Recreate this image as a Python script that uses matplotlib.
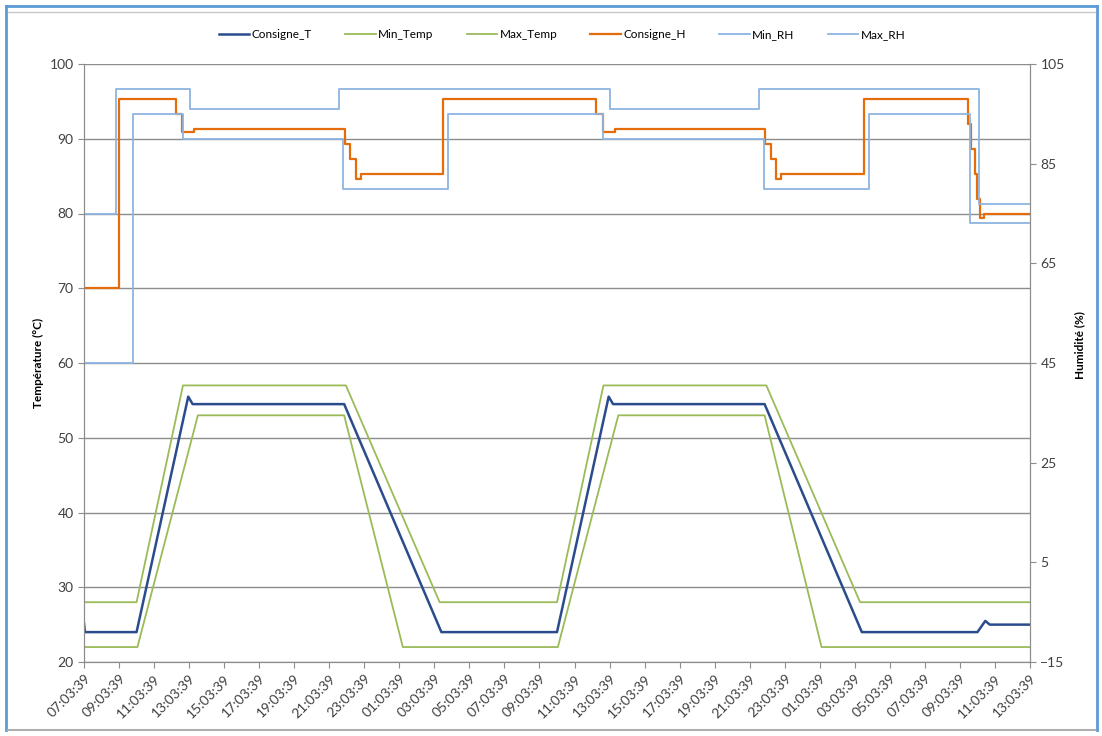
import numpy as np
import matplotlib.pyplot as plt
from matplotlib.lines import Line2D

# x axis: hours elapsed since 07:03:39, one label every 2 h
tick_labels = ["07:03:39", "09:03:39", "11:03:39", "13:03:39", "15:03:39", "17:03:39",
               "19:03:39", "21:03:39", "23:03:39", "01:03:39", "03:03:39", "05:03:39",
               "07:03:39", "09:03:39", "11:03:39", "13:03:39", "15:03:39", "17:03:39",
               "19:03:39", "21:03:39", "23:03:39", "01:03:39", "03:03:39", "05:03:39",
               "07:03:39", "09:03:39", "11:03:39", "13:03:39"]
tick_hours = [2 * i for i in range(len(tick_labels))]

# temperature (left axis, degC)
cons_t_h = [0, 0.05, 3.0, 5.95, 6.2, 14.85, 20.4, 27.0, 29.95, 30.2, 38.85, 44.4, 51.0, 51.45, 51.7, 54]
cons_t = [25.2, 24, 24, 55.5, 54.5, 54.5, 24, 24, 55.5, 54.5, 54.5, 24, 24, 25.5, 25, 25]

min_t_h = [0, 3.05, 6.5, 14.85, 18.2, 27.05, 30.5, 38.85, 42.1, 54]
min_t = [22, 22, 53, 53, 22, 22, 53, 53, 22, 22]

max_t_h = [0, 3.0, 5.65, 14.95, 20.3, 27.0, 29.65, 38.95, 44.3, 54]
max_t = [28, 28, 57, 57, 28, 28, 57, 57, 28, 28]

# humidity (right axis, %), step series
cons_h_h = [0, 2.0, 5.25, 5.6, 6.3, 14.9, 15.2, 15.5, 15.8, 20.5, 29.25, 29.6, 30.3,
            38.9, 39.2, 39.5, 39.8, 44.5, 50.45, 50.65, 50.85, 51.0, 51.15, 51.35, 54]
cons_h = [60, 98, 95, 91.3, 92, 89, 86, 82, 83, 98, 95, 91.3, 92,
          89, 86, 82, 83, 98, 93, 88, 83, 78, 74, 75, 75]

min_rh_h = [0, 2.8, 5.65, 14.8, 20.8, 29.65, 38.8, 44.8, 50.6, 54]
min_rh = [45, 95, 90, 80, 95, 90, 80, 95, 73, 73]

max_rh_h = [0, 1.85, 6.05, 14.55, 30.05, 38.55, 51.1, 54]
max_rh = [75, 100, 96, 100, 96, 100, 77, 77]

c_blue = "#2B4C8C"
c_green = "#9BBB59"
c_orange = "#E46C0A"
c_light = "#8DB4E2"
c_grid = "#8C8C8C"

plt.rcParams['font.family'] = ['Lato', 'DejaVu Sans']

fig = plt.figure(figsize=(11.02, 7.36), dpi=100)
ax = fig.add_axes([84 / 1102, 1 - 662 / 736, 946 / 1102, 598 / 736])
ax2 = ax.twinx()

ax.plot(cons_t_h, cons_t, color=c_blue, lw=1.8)
ax.plot(min_t_h, min_t, color=c_green, lw=1.3)
ax.plot(max_t_h, max_t, color=c_green, lw=1.3)

ax2.plot(cons_h_h, cons_h, color=c_orange, lw=1.6, drawstyle="steps-post")
ax2.plot(min_rh_h, min_rh, color=c_light, lw=1.3, drawstyle="steps-post")
ax2.plot(max_rh_h, max_rh, color=c_light, lw=1.3, drawstyle="steps-post")

ax.set_xlim(0, 54)
ax.set_ylim(20, 100)
ax.set_yticks(np.arange(20, 101, 10))
ax2.set_ylim(-15, 105)
ax2.set_yticks([-15, 5, 25, 45, 65, 85, 105])

ax.set_xticks(tick_hours)
ax.set_xticklabels(tick_labels, rotation=45, ha="right", rotation_mode="anchor")

ax.grid(axis="y", color=c_grid, lw=1)
ax.set_axisbelow(True)

for a in (ax, ax2):
    for s in a.spines.values():
        s.set_color(c_grid)
    a.tick_params(colors=c_grid, labelcolor="#404040", labelsize=10, length=4)
ax.spines["top"].set_visible(False)
ax2.spines["top"].set_visible(False)

fig.text(38 / 1102, 1 - 363 / 736, "Température (°C)", rotation=90, ha="center", va="center",
         fontsize=8.5, fontweight="bold")
fig.text(1080 / 1102, 1 - 345 / 736, "Humidité (%)", rotation=90, ha="center", va="center",
         fontsize=8.5, fontweight="bold")

handles = [Line2D([], [], color=c_blue, lw=1.8), Line2D([], [], color=c_green, lw=1.3),
           Line2D([], [], color=c_green, lw=1.3), Line2D([], [], color=c_orange, lw=1.6),
           Line2D([], [], color=c_light, lw=1.3), Line2D([], [], color=c_light, lw=1.3)]
names = ["Consigne_T", "Min_Temp", "Max_Temp", "Consigne_H", "Min_RH", "Max_RH"]
fig.legend(handles, names, loc="center", bbox_to_anchor=(562 / 1102, 1 - 35 / 736), ncol=6,
           frameon=False, fontsize=8.5, handlelength=2.6, handletextpad=0.2, columnspacing=2.8)

# outer frame
fig.add_artist(Line2D([6 / 1102, 6 / 1102], [1 - 6 / 736, 1 - 730 / 736], color="#5B9BD5", lw=2))
fig.add_artist(Line2D([6 / 1102, 1097 / 1102], [1 - 6 / 736, 1 - 6 / 736], color="#5B9BD5", lw=2))
fig.add_artist(Line2D([1097 / 1102, 1097 / 1102], [1 - 6 / 736, 1 - 730 / 736], color="#5B9BD5", lw=2))
fig.add_artist(Line2D([8 / 1102, 1095 / 1102], [1 - 12 / 736, 1 - 12 / 736], color="#C8C8C8", lw=1))
fig.add_artist(Line2D([8 / 1102, 1095 / 1102], [1 - 730 / 736, 1 - 730 / 736], color="#B0B0B0", lw=1.5))

fig.savefig("out.png", dpi=100)
